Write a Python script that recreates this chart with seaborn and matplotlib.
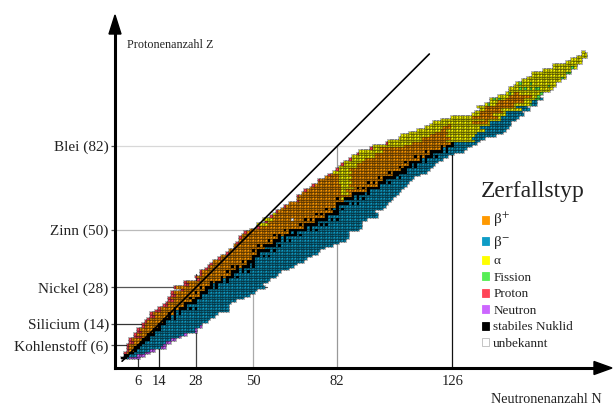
import numpy as np
import matplotlib
matplotlib.use("Agg")
import matplotlib.pyplot as plt
from matplotlib.colors import ListedColormap
from matplotlib.patches import Patch, Polygon
import seaborn as sns

# lightest and heaviest known neutron number for Z = 1 .. 118
N_LO = [0, 1, 1, 2, 2, 2, 3, 3, 5, 5, 6, 6, 8, 8, 9, 10, 11, 11, 13, 14,
        16, 17, 18, 18, 19, 19, 23, 20, 24, 24, 29, 28, 30, 30, 32, 33, 34, 35, 37, 38,
        40, 41, 43, 43, 44, 45, 45, 46, 47, 49, 52, 52, 55, 54, 57, 58, 59, 61, 62, 64,
        67, 67, 67, 69, 70, 72, 73, 75, 75, 78, 79, 81, 82, 83, 84, 85, 87, 88, 90, 91,
        95, 96, 101, 102, 106, 107, 110, 113, 116, 118, 119, 122, 126, 134, 135, 137, 136, 139, 141, 141,
        144, 147, 148, 148, 150, 151, 153, 155, 157, 157, 161, 165, 165, 170, 172, 174, 176, 176]
N_HI = [6, 8, 10, 12, 16, 16, 18, 20, 22, 24, 28, 28, 30, 30, 32, 33, 35, 36, 40, 40,
        40, 41, 43, 46, 48, 50, 51, 54, 53, 55, 56, 58, 59, 60, 63, 65, 66, 69, 70, 72,
        74, 75, 77, 80, 82, 85, 86, 86, 86, 90, 91, 91, 91, 93, 97, 97, 96, 99, 100, 101,
        102, 103, 104, 105, 106, 107, 108, 109, 110, 111, 113, 116, 117, 118, 119, 120, 122, 124, 126, 130,
        131, 133, 135, 136, 138, 142, 145, 146, 147, 148, 148, 150, 151, 153, 152, 155, 154, 158, 158, 160,
        159, 160, 163, 164, 165, 165, 167, 169, 169, 171, 171, 173, 173, 175, 175, 177, 177, 176]

# stable neutron numbers per Z
STABLE = {
    1: [0, 1], 2: [1, 2], 3: [3, 4], 4: [5], 5: [5, 6], 6: [6, 7], 7: [7, 8], 8: [8, 9, 10],
    9: [10], 10: [10, 11, 12], 11: [12], 12: [12, 13, 14], 13: [14], 14: [14, 15, 16],
    15: [16], 16: [16, 17, 18, 20], 17: [18, 20], 18: [18, 20, 22], 19: [20, 22],
    20: [20, 22, 23, 24, 26, 28], 21: [24], 22: [24, 25, 26, 27, 28], 23: [27, 28],
    24: [26, 28, 29, 30], 25: [30], 26: [28, 30, 31, 32], 27: [32], 28: [30, 32, 33, 34, 36],
    29: [34, 36], 30: [34, 36, 37, 38, 40], 31: [38, 40], 32: [38, 40, 41, 42, 44], 33: [42],
    34: [40, 42, 43, 44, 46, 48], 35: [44, 46], 36: [42, 44, 46, 47, 48, 50], 37: [48, 50],
    38: [46, 48, 49, 50], 39: [50], 40: [50, 51, 52, 54, 56], 41: [52],
    42: [50, 52, 53, 54, 55, 56, 58], 44: [52, 54, 55, 56, 57, 58, 60], 45: [58],
    46: [56, 58, 59, 60, 62, 64], 47: [60, 62], 48: [58, 60, 62, 63, 64, 65, 66, 68],
    49: [64, 66], 50: [62, 64, 65, 66, 67, 68, 69, 70, 72, 74], 51: [70, 72],
    52: [68, 70, 71, 72, 73, 74, 76, 78], 53: [74], 54: [70, 72, 74, 75, 76, 77, 78, 80, 82],
    55: [78], 56: [74, 76, 78, 79, 80, 81, 82], 57: [81, 82], 58: [78, 80, 82, 84], 59: [82],
    60: [82, 83, 84, 85, 86, 88, 90], 62: [82, 85, 86, 87, 88, 90, 92], 63: [88, 90],
    64: [88, 89, 90, 91, 92, 94], 65: [94], 66: [90, 92, 94, 95, 96, 97, 98], 67: [98],
    68: [94, 96, 98, 99, 100, 102], 69: [100], 70: [98, 100, 101, 102, 103, 104, 106],
    71: [104, 105], 72: [102, 104, 105, 106, 107, 108], 73: [107, 108],
    74: [106, 108, 109, 110, 112], 75: [110, 112], 76: [108, 110, 111, 112, 113, 114, 116],
    77: [114, 116], 78: [112, 114, 116, 117, 118, 120], 79: [118],
    80: [116, 118, 119, 120, 121, 122, 124], 81: [122, 124], 82: [122, 124, 125, 126], 83: [126],
}
# first beta-minus neutron number for elements without stable isotopes (Tc, Pm)
SPLIT = {43: 55, 61: 85}

# alpha emitters on the proton-rich side, [lo, hi) in N
ALPHA_BAND = {
    52: (52, 56), 53: (55, 57), 54: (54, 58), 55: (57, 58), 56: (58, 59),
    62: (84, 85), 64: (84, 87), 65: (84, 86), 66: (84, 89), 67: (84, 87), 68: (83, 88),
    69: (83, 87), 70: (83, 88), 71: (83, 87), 72: (81, 88), 73: (82, 87), 74: (83, 90),
    75: (84, 90), 76: (85, 92), 77: (87, 93), 78: (88, 97), 79: (90, 97), 80: (91, 100),
    81: (95, 99), 82: (96, 108), 83: (101, 111),
}

# heavy elements Z = 84 .. 118: alpha below EC_LO, beta+ in [EC_LO, EC_HI),
# alpha in [EC_HI, BM_LO), beta- from BM_LO
EC_LO = [115, 115, 118, 120, 122, 123, 125, 134, 139, 134, 137, 137, 139, 139, 143, 144, 147, 148, 150] + [200] * 16
EC_HI = [124, 126, 124, 125, 124, 126, 126, 140, 140, 144, 142, 146, 145, 150, 150, 154, 154, 157, 152] + [200] * 16
BM_LO = [135, 134, 135, 136, 139, 137, 141, 141, 145, 145, 147, 147, 153, 151, 157, 157, 160, 200, 200] + [200] * 16

# proton / neutron emitters at the edges (number of cells per Z)
P_EMIT = {3: 1, 4: 1, 5: 1, 6: 1, 7: 2, 8: 1, 9: 3, 10: 1, 11: 2, 12: 1, 13: 1, 14: 1, 15: 1,
          16: 1, 17: 2, 18: 1, 19: 2, 20: 1, 21: 2, 22: 1, 23: 2, 24: 1, 25: 2, 26: 1, 27: 1,
          28: 1, 29: 2, 30: 1, 31: 1, 32: 1, 33: 1, 34: 1, 35: 1, 36: 1, 37: 1, 39: 1, 41: 1,
          43: 1, 45: 1, 47: 1, 49: 1, 51: 1, 53: 1, 55: 1, 57: 1, 59: 1, 61: 1, 63: 1, 65: 1,
          67: 1, 69: 1, 71: 1, 73: 1, 75: 1, 77: 1, 79: 1, 81: 1, 83: 1}
N_EMIT = {1: 4, 2: 3, 3: 2, 4: 2, 5: 2, 6: 1, 7: 2, 8: 2, 9: 1, 10: 1, 11: 1, 12: 1, 13: 1}

# (N, Z) of spontaneous fission and unknown cells
FISSION = [(140, 98), (156, 98), (142, 100), (144, 100), (158, 100), (159, 100), (159, 101),
           (148, 102), (160, 102), (152, 104), (154, 104), (156, 104), (158, 104), (159, 104),
           (163, 105), (152, 106), (156, 106), (168, 108), (170, 110), (171, 110), (172, 112)]
UNKNOWN = [(65, 54)]

# magic numbers and the extent of their guide lines
MAGIC_Z = [6, 14, 28, 50, 82]
MAGIC_Z_END = [16, 30, 55, 90, 133]
Z_LABELS = ["Kohlenstoff (6)", "Silicium (14)", "Nickel (28)", "Zinn (50)", "Blei (82)"]
MAGIC_N = [6, 14, 28, 50, 82, 126]
MAGIC_N_TOP = [10, 20, 33, 50, 82, 92]

LEGEND_LABELS = ["β$^{+}$", "β$^{-}$", "α", "Fission", "Proton",
                 "Neutron", "stabiles Nuklid", "unbekannt"]
COLORS = ["#FF9900", "#0E9CC6", "#FFFF00", "#55EE55", "#FF4457", "#CC66FF", "#000000", "#FFFFFF"]
Z_LINE_COLORS = ["#333333", "#333333", "#555555", "#BBBBBB", "#D8D8D8"]
N_LINE_COLORS = ["#333333", "#222222", "#444444", "#AAAAAA", "#999999", "#111111"]

# build the nuclide grid (rows Z, columns N)
grid = np.full((119, 190), np.nan)
for z in range(1, 119):
    lo, hi = N_LO[z - 1], N_HI[z - 1]
    stab = STABLE.get(z, [])
    for n in range(lo, hi + 1):
        if z <= 83:
            if n in stab:
                code = 7
            else:
                split = (min(stab) + max(stab)) / 2 if stab else SPLIT[z]
                code = 1 if n < split else 2
                band = ALPHA_BAND.get(z)
                if band and band[0] <= n < band[1]:
                    code = 3
        else:
            i = z - 84
            if n < EC_LO[i]:
                code = 3
            elif n < EC_HI[i]:
                code = 1
            elif n < BM_LO[i]:
                code = 3
            else:
                code = 2
        grid[z, n] = code
    for k in range(P_EMIT.get(z, 0)):
        grid[z, lo + k] = 5
    for k in range(N_EMIT.get(z, 0)):
        grid[z, hi - k] = 6
for n, z in FISSION:
    grid[z, n] = 4
for n, z in UNKNOWN:
    grid[z, n] = 8

sns.set_theme(style="white")
plt.rcParams["font.family"] = ["Liberation Serif", "DejaVu Serif"]
plt.rcParams["mathtext.fontset"] = "stix"

fig = plt.figure(figsize=(6.16, 4.05), dpi=100)
ax = fig.add_axes([115 / 616, 37 / 405, 497 / 616, 353 / 405])

sns.heatmap(grid, ax=ax, cmap=ListedColormap(COLORS), vmin=0.5, vmax=8.5, cbar=False,
            linewidths=0.1, linecolor="black", xticklabels=False, yticklabels=False)
# cell borders only on existing nuclides
mesh = ax.collections[0]
edge = np.zeros((grid.size, 4))
edge[~np.isnan(grid).ravel()] = (0.0, 0.0, 0.0, 0.28)
mesh.set_edgecolor(edge)

ax.set_xlim(-2.4, 187.5)
ax.set_ylim(-2.29, 132.6)

# magic number guide lines below the cells
for z, nend, c in zip(MAGIC_Z, MAGIC_Z_END, Z_LINE_COLORS):
    ax.plot([-2.4, nend + 0.5], [z + 0.5, z + 0.5], color=c, lw=0.9, zorder=0.5)
for n, ztop, c in zip(MAGIC_N, MAGIC_N_TOP, N_LINE_COLORS):
    ax.plot([n + 0.5, n + 0.5], [-2.29, ztop + 0.5], color=c, lw=0.9, zorder=0.5)

# N = Z line
ax.plot([0.3, 117.7], [0.3, 117.7], color="black", lw=1.2, zorder=3)

# axes with arrows
for side in ["left", "bottom"]:
    ax.spines[side].set_visible(True)
    ax.spines[side].set_color("black")
    ax.spines[side].set_linewidth(2.2)
for side in ["right", "top"]:
    ax.spines[side].set_visible(False)
ax.spines["bottom"].set_bounds(-2.4, 181)
ax.spines["left"].set_bounds(-2.29, 126)
ax.add_patch(Polygon([(1.0, 0.0), (1 - 18 / 497, 6.5 / 353), (1 - 18 / 497, -6.5 / 353)],
                     closed=True, color="black", transform=ax.transAxes, clip_on=False))
ax.add_patch(Polygon([(0.0, 1.0), (-6 / 497, 1 - 19 / 353), (6 / 497, 1 - 19 / 353)],
                     closed=True, color="black", transform=ax.transAxes, clip_on=False))

ax.set_yticks([z + 0.5 for z in MAGIC_Z])
ax.set_yticklabels(Z_LABELS, rotation=0)
ax.set_xticks([n + 0.5 for n in MAGIC_N])
ax.set_xticklabels([str(n) for n in MAGIC_N], rotation=0)
ax.tick_params(axis="y", left=True, length=3, width=0.9, pad=1.5, labelsize=11,
               color="#555555", labelcolor="#222222")
ax.tick_params(axis="x", bottom=True, length=0, pad=5, labelsize=10.5, labelcolor="#222222")
ax.set_xlabel("")
ax.set_ylabel("")

fig.text(127 / 616, 1 - 45 / 405, "Protonenanzahl Z", fontsize=8.7, color="#222222",
         ha="left", va="center")
fig.text(546 / 616, 2 / 405, "Neutronenanzahl N", fontsize=10.3, color="#222222",
         ha="center", va="baseline")
fig.text(481 / 616, 1 - 192 / 405, "Zerfallstyp", fontsize=17, color="#222222",
         ha="left", va="center")

handles = [Patch(facecolor=c, edgecolor=("#BBBBBB" if c == "#FFFFFF" else c), linewidth=0.6)
           for c in COLORS]
leg = ax.legend(handles, LEGEND_LABELS, loc="upper left",
                bbox_to_anchor=(482 / 616, 1 - 211 / 405), bbox_transform=fig.transFigure,
                frameon=False, fontsize=9.5, handlelength=0.55, handleheight=0.55,
                handletextpad=0.3, labelspacing=0.34, borderpad=0, borderaxespad=0)
for i, t in enumerate(leg.get_texts()):
    t.set_color("#222222")
    if i < 2:
        t.set_fontsize(11)

fig.savefig("out.png", dpi=100, facecolor="white")
